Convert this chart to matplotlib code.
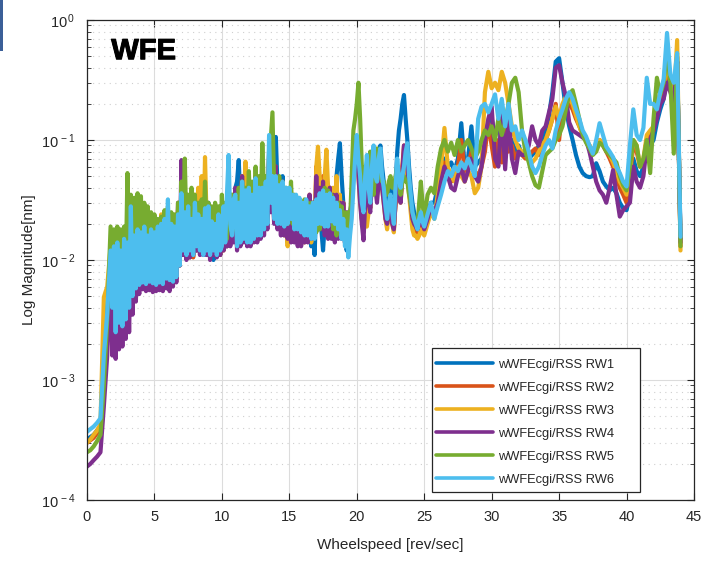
import numpy as np
import matplotlib
matplotlib.use("Agg")
import matplotlib.pyplot as plt
import matplotlib.patheffects as pe
from matplotlib.ticker import LogLocator, FixedLocator, NullFormatter, FuncFormatter
from matplotlib.patches import Rectangle

plt.rcParams['font.family'] = ['Liberation Sans', 'DejaVu Sans']
plt.rcParams['mathtext.fontset'] = 'custom'
plt.rcParams['mathtext.rm'] = 'Liberation Sans'
plt.rcParams['mathtext.it'] = 'Liberation Sans:italic'

# Wheel speed grid [rev/sec]: finer sampling through the busy 1.75-25 rev/sec range
speed = np.concatenate([
    np.linspace(0.0, 1.5, 7),
    np.linspace(1.75, 24.875, 186),
    np.linspace(25.0, 44.0, 77),
])

labels = ['wWFEcgi/RSS RW1', 'wWFEcgi/RSS RW2', 'wWFEcgi/RSS RW3',
          'wWFEcgi/RSS RW4', 'wWFEcgi/RSS RW5', 'wWFEcgi/RSS RW6']
colors = ['#0072BD', '#D95319', '#EDB120', '#7E2F8E', '#77AC30', '#4DBEEE']

rw1 = [
    3.2e-4, 3.35e-4, 3.5e-4, 3.8e-4, 4.1e-4, 1.3e-3, 3e-3,
    0.011, 0.0035, 0.012, 0.0022, 0.012, 0.0026, 0.011, 0.0026,
    0.013, 0.0029, 0.013, 0.0035, 0.02, 0.0045, 0.015, 0.0052,
    0.015, 0.0058, 0.016, 0.006, 0.017, 0.006, 0.016, 0.0061,
    0.016, 0.006, 0.018, 0.0061, 0.02, 0.0062, 0.019, 0.006,
    0.02, 0.0062, 0.022, 0.006, 0.022, 0.0065, 0.021, 0.007,
    0.025, 0.009, 0.03, 0.011, 0.028, 0.011, 0.026, 0.011,
    0.028, 0.011, 0.032, 0.012, 0.026, 0.012, 0.025, 0.011,
    0.025, 0.011, 0.03, 0.0105, 0.022, 0.01, 0.02, 0.011,
    0.022, 0.011,
    0.025, 0.013, 0.028, 0.013, 0.04, 0.015, 0.03, 0.015,
    0.04, 0.045, 0.068, 0.03, 0.02, 0.015, 0.03, 0.014,
    0.04, 0.015, 0.03, 0.015, 0.05, 0.016, 0.04, 0.016,
    0.06, 0.02, 0.04, 0.02, 0.08, 0.04, 0.05, 0.04,
    0.106, 0.04, 0.02, 0.035, 0.05, 0.02, 0.03, 0.014,
    0.035, 0.02, 0.03, 0.018, 0.03, 0.016, 0.028, 0.016,
    0.028, 0.015, 0.026, 0.015, 0.025, 0.013, 0.02, 0.011,
    0.03, 0.018, 0.025, 0.018, 0.012, 0.02, 0.03, 0.02,
    0.04, 0.02, 0.035, 0.02, 0.05, 0.07, 0.094, 0.05,
    0.03, 0.018, 0.012, 0.015, 0.02, 0.035, 0.06, 0.08,
    0.1, 0.06, 0.04, 0.025, 0.02, 0.04, 0.06, 0.04,
    0.03, 0.05, 0.07, 0.06, 0.06, 0.08, 0.09, 0.06,
    0.045, 0.03, 0.025, 0.035, 0.04, 0.03, 0.022, 0.04,
    0.08, 0.12, 0.15, 0.2, 0.237, 0.15, 0.1, 0.06,
    0.04, 0.03, 0.025, 0.022, 0.02, 0.022, 0.022, 0.021,
    0.02, 0.025, 0.03, 0.03, 0.04, 0.06, 0.07, 0.06, 0.065, 0.055, 0.07, 0.138, 0.06, 0.07, 0.13, 0.06, 0.065, 0.07, 0.1, 0.14,
    0.15, 0.11, 0.13, 0.1, 0.12, 0.09, 0.1, 0.08, 0.09, 0.075, 0.08, 0.07, 0.075, 0.08, 0.09, 0.1, 0.12, 0.16, 0.25, 0.45,
    0.48, 0.3, 0.18, 0.13, 0.1, 0.075, 0.06, 0.053, 0.05, 0.049, 0.05, 0.064, 0.055, 0.045, 0.041, 0.038, 0.04, 0.036, 0.03, 0.027,
    0.026, 0.035, 0.07, 0.055, 0.05, 0.06, 0.1, 0.09, 0.1, 0.14, 0.18, 0.22, 0.35, 0.28, 0.25, 0.45, 0.015,
]

rw2 = [
    3.0e-4, 3.15e-4, 3.3e-4, 3.6e-4, 3.9e-4, 1.5e-3, 3.4e-3,
    0.012, 0.004, 0.013, 0.0024, 0.013, 0.0027, 0.012, 0.0027,
    0.014, 0.003, 0.014, 0.0036, 0.022, 0.0048, 0.017, 0.0054,
    0.017, 0.006, 0.018, 0.0062, 0.018, 0.0062, 0.017, 0.0062,
    0.017, 0.0061, 0.018, 0.0062, 0.019, 0.0063, 0.021, 0.0062,
    0.021, 0.0063, 0.02, 0.0062, 0.02, 0.0066, 0.022, 0.007,
    0.024, 0.009, 0.035, 0.011, 0.027, 0.011, 0.027, 0.0105,
    0.025, 0.0105, 0.03, 0.012, 0.03, 0.012, 0.04, 0.0115,
    0.03, 0.0115, 0.028, 0.0105, 0.022, 0.011, 0.022, 0.011,
    0.024, 0.011,
    0.024, 0.012, 0.026, 0.013, 0.04, 0.014, 0.032, 0.015,
    0.035, 0.013, 0.03, 0.014, 0.05, 0.015, 0.035, 0.014,
    0.04, 0.014, 0.032, 0.015, 0.05, 0.016, 0.04, 0.017,
    0.05, 0.019, 0.04, 0.02, 0.08, 0.03, 0.045, 0.03,
    0.06, 0.02, 0.04, 0.018, 0.045, 0.017, 0.035, 0.016,
    0.035, 0.018, 0.032, 0.017, 0.03, 0.016, 0.028, 0.015,
    0.03, 0.014, 0.03, 0.015, 0.035, 0.015, 0.03, 0.016,
    0.06, 0.025, 0.04, 0.02, 0.05, 0.018, 0.04, 0.018,
    0.04, 0.018, 0.035, 0.017, 0.035, 0.016, 0.03, 0.016,
    0.03, 0.014, 0.022, 0.012, 0.022, 0.03, 0.055, 0.08,
    0.1, 0.06, 0.035, 0.022, 0.017, 0.035, 0.055, 0.035,
    0.027, 0.045, 0.065, 0.05, 0.04, 0.05, 0.06, 0.045,
    0.035, 0.025, 0.02, 0.025, 0.03, 0.022, 0.018, 0.03,
    0.055, 0.045, 0.04, 0.06, 0.09, 0.08, 0.07, 0.045,
    0.03, 0.022, 0.02, 0.018, 0.016, 0.018, 0.02, 0.018,
    0.017, 0.022, 0.028, 0.024, 0.03, 0.05, 0.065, 0.055, 0.045, 0.05, 0.06, 0.1, 0.055, 0.06, 0.08, 0.055, 0.05, 0.06, 0.08, 0.14,
    0.09, 0.06, 0.1, 0.065, 0.12, 0.08, 0.09, 0.07, 0.08, 0.075, 0.07, 0.075, 0.08, 0.085, 0.075, 0.09, 0.1, 0.12, 0.15, 0.2,
    0.1, 0.19, 0.22, 0.2, 0.18, 0.15, 0.13, 0.11, 0.1, 0.09, 0.08, 0.085, 0.1, 0.09, 0.08, 0.07, 0.06, 0.05, 0.04, 0.035,
    0.03, 0.05, 0.09, 0.08, 0.06, 0.065, 0.1, 0.11, 0.12, 0.2, 0.22, 0.26, 0.4, 0.3, 0.2, 0.5, 0.013,
]

rw3 = [
    3.0e-4, 3.2e-4, 3.5e-4, 3.8e-4, 4.3e-4, 4.9e-3, 6e-3,
    0.013, 0.0045, 0.014, 0.0028, 0.014, 0.003, 0.014, 0.003,
    0.015, 0.0034, 0.015, 0.0038, 0.022, 0.005, 0.018, 0.0056,
    0.018, 0.0062, 0.019, 0.0063, 0.02, 0.0064, 0.018, 0.0064,
    0.018, 0.0063, 0.02, 0.0063, 0.02, 0.0065, 0.024, 0.0064,
    0.024, 0.0064, 0.021, 0.0064, 0.021, 0.0068, 0.022, 0.0072,
    0.026, 0.01, 0.04, 0.012, 0.03, 0.012, 0.03, 0.011,
    0.03, 0.011, 0.035, 0.013, 0.04, 0.013, 0.05, 0.013,
    0.072, 0.02, 0.025, 0.011, 0.022, 0.011, 0.024, 0.012,
    0.025, 0.012,
    0.026, 0.013, 0.03, 0.014, 0.045, 0.016, 0.035, 0.016,
    0.035, 0.014, 0.03, 0.015, 0.05, 0.03, 0.066, 0.025,
    0.03, 0.016, 0.035, 0.016, 0.045, 0.015, 0.04, 0.017,
    0.055, 0.02, 0.045, 0.02, 0.075, 0.03, 0.045, 0.028,
    0.05, 0.02, 0.035, 0.02, 0.04, 0.016, 0.03, 0.013,
    0.035, 0.017, 0.03, 0.016, 0.028, 0.016, 0.027, 0.015,
    0.03, 0.015, 0.03, 0.015, 0.032, 0.014, 0.03, 0.016,
    0.06, 0.088, 0.05, 0.03, 0.03, 0.05, 0.083, 0.04,
    0.035, 0.016, 0.04, 0.018, 0.05, 0.02, 0.035, 0.018,
    0.03, 0.015, 0.013, 0.016, 0.02, 0.03, 0.05, 0.07,
    0.09, 0.05, 0.03, 0.022, 0.02, 0.019, 0.019, 0.025,
    0.04, 0.05, 0.06, 0.045, 0.035, 0.045, 0.05, 0.04,
    0.03, 0.022, 0.018, 0.025, 0.03, 0.02, 0.017, 0.03,
    0.05, 0.04, 0.03, 0.045, 0.07, 0.06, 0.05, 0.035,
    0.025, 0.018, 0.016, 0.016, 0.015, 0.016, 0.018, 0.017,
    0.016, 0.02, 0.025, 0.022, 0.035, 0.06, 0.126, 0.06, 0.05, 0.045, 0.06, 0.05, 0.045, 0.055, 0.05, 0.036, 0.04, 0.06, 0.25, 0.37,
    0.27, 0.3, 0.26, 0.37, 0.3, 0.2, 0.13, 0.1, 0.085, 0.08, 0.075, 0.07, 0.065, 0.07, 0.08, 0.09, 0.1, 0.12, 0.15, 0.19,
    0.15, 0.2, 0.23, 0.22, 0.2, 0.16, 0.13, 0.11, 0.1, 0.09, 0.08, 0.09, 0.1, 0.095, 0.085, 0.075, 0.065, 0.055, 0.045, 0.04,
    0.035, 0.055, 0.1, 0.09, 0.06, 0.07, 0.11, 0.12, 0.13, 0.2, 0.25, 0.28, 0.45, 0.3, 0.2, 0.68, 0.012,
]

rw4 = [
    1.9e-4, 2.0e-4, 2.15e-4, 2.3e-4, 2.5e-4, 6e-4, 1.6e-3,
    0.008, 0.0016, 0.01, 0.0015, 0.011, 0.0018, 0.01, 0.0019,
    0.012, 0.0022, 0.013, 0.0025, 0.015, 0.0035, 0.014, 0.0045,
    0.014, 0.0052, 0.015, 0.0057, 0.016, 0.0055, 0.015, 0.0056,
    0.015, 0.0054, 0.016, 0.0055, 0.017, 0.0056, 0.018, 0.0055,
    0.018, 0.0058, 0.02, 0.0055, 0.019, 0.006, 0.02, 0.0065,
    0.03, 0.009, 0.068, 0.011, 0.028, 0.01, 0.026, 0.0105,
    0.025, 0.011, 0.028, 0.012, 0.025, 0.011, 0.03, 0.011,
    0.026, 0.011, 0.024, 0.01, 0.02, 0.011, 0.018, 0.0105,
    0.022, 0.011,
    0.022, 0.012, 0.025, 0.013, 0.035, 0.013, 0.03, 0.014,
    0.04, 0.012, 0.035, 0.013, 0.05, 0.014, 0.03, 0.013,
    0.035, 0.013, 0.03, 0.014, 0.04, 0.014, 0.035, 0.015,
    0.05, 0.016, 0.035, 0.018, 0.07, 0.025, 0.04, 0.02,
    0.06, 0.018, 0.035, 0.016, 0.04, 0.016, 0.03, 0.015,
    0.03, 0.014, 0.028, 0.014, 0.025, 0.013, 0.027, 0.013,
    0.028, 0.014, 0.03, 0.014, 0.035, 0.015, 0.03, 0.016,
    0.05, 0.018, 0.04, 0.018, 0.045, 0.016, 0.035, 0.015,
    0.04, 0.015, 0.035, 0.014, 0.035, 0.015, 0.03, 0.015,
    0.03, 0.014, 0.025, 0.014, 0.025, 0.03, 0.05, 0.07,
    0.09, 0.05, 0.03, 0.02, 0.0146, 0.03, 0.05, 0.03,
    0.025, 0.045, 0.06, 0.04, 0.03, 0.045, 0.055, 0.04,
    0.03, 0.022, 0.02, 0.025, 0.028, 0.02, 0.018, 0.03,
    0.05, 0.04, 0.03, 0.05, 0.09, 0.07, 0.06, 0.04,
    0.03, 0.022, 0.02, 0.019, 0.018, 0.02, 0.022, 0.02,
    0.018, 0.022, 0.028, 0.025, 0.03, 0.045, 0.06, 0.05, 0.04, 0.038, 0.05, 0.06, 0.045, 0.055, 0.07, 0.05, 0.045, 0.06, 0.1, 0.15,
    0.19, 0.07, 0.06, 0.18, 0.057, 0.16, 0.07, 0.053, 0.08, 0.075, 0.075, 0.09, 0.13, 0.1, 0.09, 0.12, 0.13, 0.17, 0.22, 0.4,
    0.42, 0.3, 0.23, 0.14, 0.12, 0.115, 0.11, 0.105, 0.1, 0.08, 0.06, 0.045, 0.038, 0.035, 0.03, 0.04, 0.056, 0.035, 0.023, 0.026,
    0.028, 0.03, 0.06, 0.045, 0.04, 0.05, 0.09, 0.1, 0.12, 0.15, 0.2, 0.22, 0.3, 0.25, 0.2, 0.45, 0.014,
]

rw5 = [
    2.5e-4, 2.6e-4, 2.8e-4, 3.1e-4, 3.5e-4, 9e-4, 3.2e-3,
    0.019, 0.005, 0.018, 0.006, 0.019, 0.0065, 0.018, 0.007,
    0.019, 0.008, 0.053, 0.009, 0.035, 0.008, 0.033, 0.009,
    0.036, 0.009, 0.034, 0.01, 0.03, 0.009, 0.028, 0.0085,
    0.025, 0.0085, 0.024, 0.008, 0.022, 0.009, 0.023, 0.0085,
    0.026, 0.009, 0.028, 0.008, 0.025, 0.009, 0.024, 0.01,
    0.03, 0.012, 0.045, 0.02, 0.07, 0.018, 0.035, 0.015,
    0.04, 0.014, 0.035, 0.015, 0.03, 0.016, 0.032, 0.017,
    0.045, 0.016, 0.03, 0.015, 0.028, 0.014, 0.03, 0.015,
    0.028, 0.014,
    0.035, 0.016, 0.03, 0.015, 0.04, 0.018, 0.035, 0.018,
    0.03, 0.016, 0.04, 0.015, 0.045, 0.02, 0.04, 0.02,
    0.055, 0.022, 0.045, 0.02, 0.06, 0.025, 0.05, 0.025,
    0.094, 0.035, 0.05, 0.03, 0.06, 0.1, 0.17, 0.04,
    0.035, 0.025, 0.05, 0.022, 0.04, 0.022, 0.04, 0.02,
    0.025, 0.045, 0.02, 0.035, 0.02, 0.033, 0.02, 0.03,
    0.018, 0.032, 0.018, 0.03, 0.02, 0.03, 0.018, 0.03,
    0.017, 0.028, 0.018, 0.03, 0.02, 0.04, 0.022, 0.038,
    0.022, 0.035, 0.018, 0.03, 0.016, 0.03, 0.018, 0.028,
    0.018, 0.025, 0.018, 0.025, 0.02, 0.05, 0.12, 0.15,
    0.2, 0.3, 0.15, 0.06, 0.04, 0.06, 0.04, 0.06,
    0.08, 0.04, 0.035, 0.06, 0.085, 0.06, 0.05, 0.045,
    0.045, 0.035, 0.035, 0.045, 0.05, 0.04, 0.04, 0.05,
    0.06, 0.045, 0.035, 0.045, 0.05, 0.045, 0.045, 0.035,
    0.03, 0.025, 0.022, 0.02, 0.019, 0.03, 0.045, 0.03,
    0.022, 0.035, 0.04, 0.036, 0.06, 0.085, 0.1, 0.08, 0.095, 0.075, 0.1, 0.08, 0.09, 0.1, 0.085, 0.07, 0.08, 0.1, 0.12, 0.11,
    0.13, 0.1, 0.15, 0.11, 0.14, 0.2, 0.3, 0.33, 0.25, 0.12, 0.08, 0.065, 0.05, 0.042, 0.04, 0.055, 0.075, 0.08, 0.085, 0.1,
    0.11, 0.13, 0.18, 0.24, 0.26, 0.2, 0.15, 0.11, 0.095, 0.085, 0.075, 0.08, 0.095, 0.09, 0.08, 0.075, 0.07, 0.065, 0.05, 0.042,
    0.038, 0.06, 0.1, 0.09, 0.06, 0.07, 0.1, 0.053, 0.15, 0.33, 0.24, 0.3, 0.56, 0.3, 0.077, 0.49, 0.013,
]

rw6 = [
    3.7e-4, 3.9e-4, 4.1e-4, 4.4e-4, 4.8e-4, 1.6e-3, 3.6e-3,
    0.012, 0.004, 0.013, 0.0025, 0.014, 0.003, 0.012, 0.0028,
    0.015, 0.0032, 0.014, 0.004, 0.028, 0.005, 0.016, 0.0058,
    0.018, 0.0062, 0.017, 0.0065, 0.019, 0.0063, 0.016, 0.0066,
    0.018, 0.0064, 0.017, 0.0062, 0.019, 0.0065, 0.02, 0.0063,
    0.022, 0.007, 0.032, 0.0068, 0.02, 0.0066, 0.019, 0.0072,
    0.024, 0.009, 0.036, 0.012, 0.025, 0.011, 0.028, 0.012,
    0.022, 0.011, 0.03, 0.013, 0.024, 0.012, 0.022, 0.011,
    0.027, 0.012, 0.028, 0.011, 0.021, 0.012, 0.02, 0.011,
    0.024, 0.012,
    0.013, 0.028, 0.014, 0.035, 0.075, 0.02, 0.016, 0.032,
    0.035, 0.013, 0.03, 0.014, 0.045, 0.015, 0.038, 0.014,
    0.04, 0.014, 0.035, 0.015, 0.048, 0.016, 0.04, 0.016,
    0.04, 0.018, 0.045, 0.02, 0.11, 0.03, 0.05, 0.022,
    0.05, 0.02, 0.042, 0.02, 0.045, 0.019, 0.04, 0.02,
    0.04, 0.022, 0.035, 0.018, 0.035, 0.018, 0.033, 0.017,
    0.03, 0.016, 0.032, 0.016, 0.028, 0.015, 0.03, 0.015,
    0.032, 0.02, 0.036, 0.02, 0.038, 0.019, 0.035, 0.019,
    0.036, 0.021, 0.033, 0.02, 0.03, 0.018, 0.026, 0.015,
    0.022, 0.013, 0.018, 0.0105, 0.016, 0.022, 0.04, 0.07,
    0.11, 0.07, 0.05, 0.03, 0.025, 0.05, 0.075, 0.04,
    0.03, 0.06, 0.09, 0.05, 0.045, 0.07, 0.085, 0.05,
    0.04, 0.028, 0.022, 0.03, 0.035, 0.025, 0.02, 0.04,
    0.07, 0.05, 0.04, 0.05, 0.06, 0.08, 0.094, 0.05,
    0.035, 0.025, 0.022, 0.02, 0.018, 0.022, 0.025, 0.021,
    0.019, 0.024, 0.03, 0.022, 0.028, 0.035, 0.045, 0.055, 0.05, 0.06, 0.055, 0.065, 0.058, 0.07, 0.06, 0.05, 0.15, 0.19, 0.2, 0.17,
    0.2, 0.24, 0.15, 0.22, 0.13, 0.2, 0.12, 0.13, 0.1, 0.12, 0.1, 0.08, 0.06, 0.053, 0.06, 0.075, 0.09, 0.1, 0.085, 0.12,
    0.15, 0.18, 0.22, 0.25, 0.22, 0.18, 0.15, 0.12, 0.107, 0.09, 0.077, 0.1, 0.138, 0.11, 0.088, 0.08, 0.072, 0.06, 0.053, 0.045,
    0.041, 0.09, 0.18, 0.11, 0.1, 0.126, 0.33, 0.2, 0.2, 0.18, 0.25, 0.32, 0.78, 0.35, 0.3, 0.53, 0.0156,
]

series = [rw1, rw2, rw3, rw4, rw5, rw6]
for s in series:
    assert len(s) == len(speed), (len(s), len(speed))

x_ticks = [0, 5, 10, 15, 20, 25, 30, 35, 40, 45]
y_ticks = [1e-4, 1e-3, 1e-2, 1e-1, 1e0]

ink = '#262626'

fig = plt.figure(figsize=(7.06, 5.63), dpi=100)
ax = fig.add_axes([0.1232, 0.1119, 0.8598, 0.8526])

for vals, col, lab in zip(series, colors, labels):
    ax.plot(speed, vals, color=col, lw=3.0, label=lab,
            solid_joinstyle='round', solid_capstyle='round')

ax.set_yscale('log')
ax.set_xlim(0, 45)
ax.set_ylim(1e-4, 1e0)
ax.xaxis.set_major_locator(FixedLocator(x_ticks))
ax.yaxis.set_major_locator(FixedLocator(y_ticks))
ax.yaxis.set_minor_locator(LogLocator(base=10, subs=np.arange(2, 10)))
ax.yaxis.set_minor_formatter(NullFormatter())


def dec_fmt(v, pos):
    e = int(round(np.log10(v)))
    return r'$10^{\,%d}$' % e


ax.yaxis.set_major_formatter(FuncFormatter(dec_fmt))

ax.grid(True, which='major', color='#dcdcdc', lw=0.8, ls='-')
ax.grid(True, which='minor', axis='y', color='#cfcfcf', lw=0.8, ls=(0, (1, 4)))
ax.set_axisbelow(True)

ax.tick_params(which='both', direction='in', top=True, right=True,
               colors=ink, labelsize=10.5, labelcolor=ink)
ax.tick_params(which='major', length=5, width=0.8)
ax.tick_params(which='minor', length=3, width=0.6)
ax.tick_params(axis='x', which='major', pad=7.5)
ax.tick_params(axis='y', which='major', pad=8.5)
for sp in ax.spines.values():
    sp.set_color(ink)
    sp.set_linewidth(0.9)

ax.set_xlabel('Wheelspeed [rev/sec]', fontsize=11, color=ink, labelpad=10)
ax.set_ylabel('Log Magnitude[nm]', fontsize=11, color=ink, labelpad=3)

ax.text(0.04, 0.935, 'WFE', transform=ax.transAxes, fontsize=21,
        fontweight='bold', color='black', va='center', ha='left',
        path_effects=[pe.withStroke(linewidth=0.7, foreground='black')])

# legend box with the wide right margin of the original layout
ax.add_patch(Rectangle((0.6119, 0.1261), 0.2946, 0.2558, transform=fig.transFigure,
                       facecolor='white', edgecolor=ink, lw=0.9, zorder=4,
                       clip_on=False))
leg = ax.legend(loc='upper left', bbox_to_anchor=(0.6176, 0.3629),
                bbox_transform=fig.transFigure, fontsize=9.3, frameon=False,
                handlelength=4.4, handletextpad=0.4, labelspacing=0.85,
                borderpad=0.0, borderaxespad=0.0)
leg.set_zorder(5)
for t in leg.get_texts():
    t.set_color(ink)
for ln in leg.get_lines():
    ln.set_linewidth(2.6)

# slide edge marker at top-left
fig.patches.append(Rectangle((0.0, 0.91), 0.004, 0.09, transform=fig.transFigure,
                             facecolor='#3b5f98', edgecolor='none'))

fig.savefig('out.png', dpi=100)
